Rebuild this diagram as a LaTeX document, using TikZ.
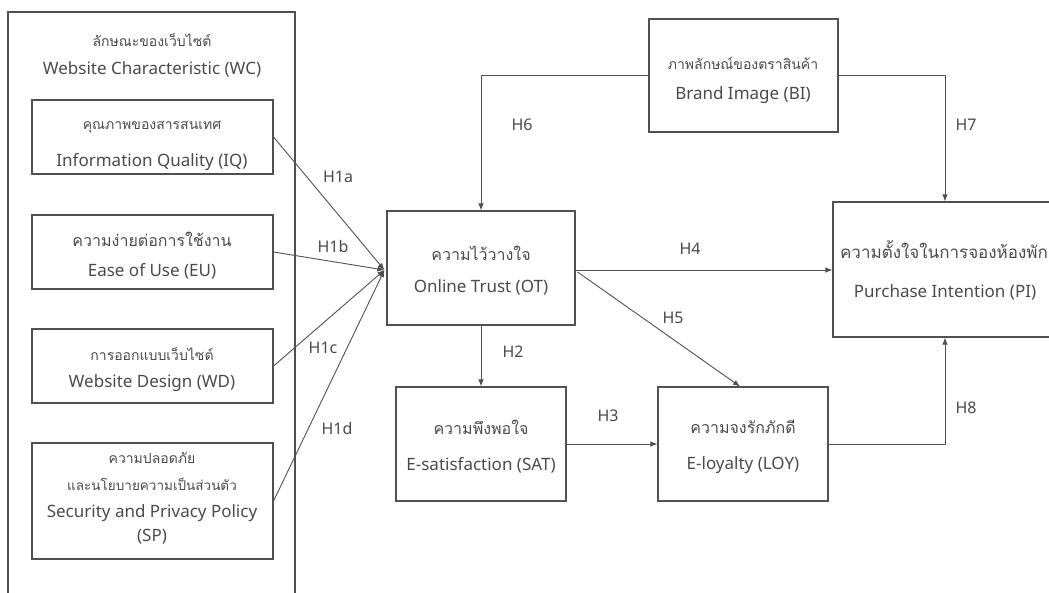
\documentclass[tikz,border=0pt]{standalone}
\usepackage{fontspec}
\setmainfont{Noto Sans}
\newfontfamily\thaifont[Script=Thai]{Loma}
\usetikzlibrary{arrows.meta,calc}

\definecolor{ink}{HTML}{4A4A4A}
\definecolor{edge}{HTML}{505050}

\tikzset{
  box/.style={draw=edge, line width=1.1pt, rectangle, inner sep=0pt},
  en/.style={text=ink, font=\fontsize{17}{20}\selectfont, inner sep=0pt},
  th/.style={text=ink, font=\thaifont\fontsize{#1}{#1}\selectfont, inner sep=0pt},
  hyp/.style={text=ink, font=\fontsize{16}{19}\selectfont, inner sep=0pt},
  arr/.style={draw=edge, line width=0.9pt, -{Latex[length=7pt,width=5.5pt]}},
}

\begin{document}
\begin{tikzpicture}[x=1pt, y=-1pt]
\useasboundingbox (0,0) rectangle (1049,592);

% ---------- website characteristic group ----------
\node[box, minimum width=287pt, minimum height=588pt] (wc) at (151.5,306) {};
\node[th=14] (wcth) at (152,40) {ลักษณะของเว็บไซต์};
\node[en] (wcen) at (152,69) {Website Characteristic (WC)};

\node[box, minimum width=241pt, minimum height=74pt] (iq) at (152.5,137) {};
\node[th=14] (iqth) at (152,127) {คุณภาพของสารสนเทศ};
\node[en] (iqen) at (152,162) {Information Quality (IQ)};

\node[box, minimum width=241pt, minimum height=74pt] (eu) at (152.5,252) {};
\node[th=16] (euth) at (152,239) {ความง่ายต่อการใช้งาน};
\node[en] (euen) at (152,271) {Ease of Use (EU)};

\node[box, minimum width=241pt, minimum height=74pt] (wd) at (152.5,366) {};
\node[th=14] (wdth) at (152,354) {การออกแบบเว็บไซต์};
\node[en] (wden) at (152,383) {Website Design (WD)};

\node[box, minimum width=241pt, minimum height=116pt] (sp) at (152.5,501) {};
\node[th=14] (spth1) at (152,458) {ความปลอดภัย};
\node[th=13.5] (spth2) at (152,484) {และนโยบายความเป็นส่วนตัว};
\node[en] (spen1) at (152,513) {Security and Privacy Policy};
\node[en] (spen2) at (152,537) {(SP)};

% ---------- constructs ----------
\node[box, minimum width=188pt, minimum height=114pt] (ot) at (481,268) {};
\node[th=16] (otth) at (481,253) {ความไว้วางใจ};
\node[en] (oten) at (481,287) {Online Trust (OT)};

\node[box, minimum width=189pt, minimum height=113pt] (bi) at (743.5,75.5) {};
\node[th=14] (bith) at (743,63) {ภาพลักษณ์ของตราสินค้า};
\node[en] (bien) at (743,95) {Brand Image (BI)};

\node[box, minimum width=224pt, minimum height=135pt] (pi) at (945,269.5) {};
\node[th=17] (pith) at (944,250) {ความตั้งใจในการจองห้องพัก};
\node[en] (pien) at (945,292) {Purchase Intention (PI)};

\node[box, minimum width=170pt, minimum height=114pt] (sat) at (481,444) {};
\node[th=16] (satth) at (481,427) {ความพึงพอใจ};
\node[en] (saten) at (481,465) {E-satisfaction (SAT)};

\node[box, minimum width=170pt, minimum height=114pt] (loy) at (743,444) {};
\node[th=16] (loyth) at (743,427) {ความจงรักภักดี};
\node[en] (loyen) at (743,465) {E-loyalty (LOY)};

% ---------- paths ----------
\coordinate (conv) at ($(ot.west)+(-2,2)$);
\draw[arr] (iq.east) -- (conv);
\draw[arr] (eu.east) -- (conv);
\draw[arr] (wd.east) -- (conv);
\draw[arr] (sp.east) -- (conv);

\coordinate (h4start) at ($(ot.east)+(0,2)$);
\coordinate (h5start) at ($(ot.east)+(2,4)$);
\coordinate (h5end) at ($(loy.north)+(-3,0)$);

\draw[arr] (bi.west) -| (ot.north);
\draw[arr] (bi.east) -| (pi.north);
\draw[arr] (h4start) -- (h4start -| pi.west);
\draw[arr] (h5start) -- (h5end);
\draw[arr] (ot.south) -- (sat.north);
\draw[arr] (sat.east) -- (loy.west);
\draw[arr] (loy.east) -| (pi.south);

% ---------- hypothesis labels ----------
\node[hyp] (h1a) at (338,177) {H1a};
\node[hyp] (h1b) at (333,246) {H1b};
\node[hyp] (h1c) at (323,348) {H1c};
\node[hyp] (h1d) at (337,428) {H1d};
\node[hyp] (h2) at (513,352) {H2};
\node[hyp] (h3) at (608,416) {H3};
\node[hyp] (h4) at (690,249) {H4};
\node[hyp] (h5) at (673,318) {H5};
\node[hyp] (h6) at (522,125) {H6};
\node[hyp] (h7) at (966,125) {H7};
\node[hyp] (h8) at (966,408) {H8};
\end{tikzpicture}
\end{document}
